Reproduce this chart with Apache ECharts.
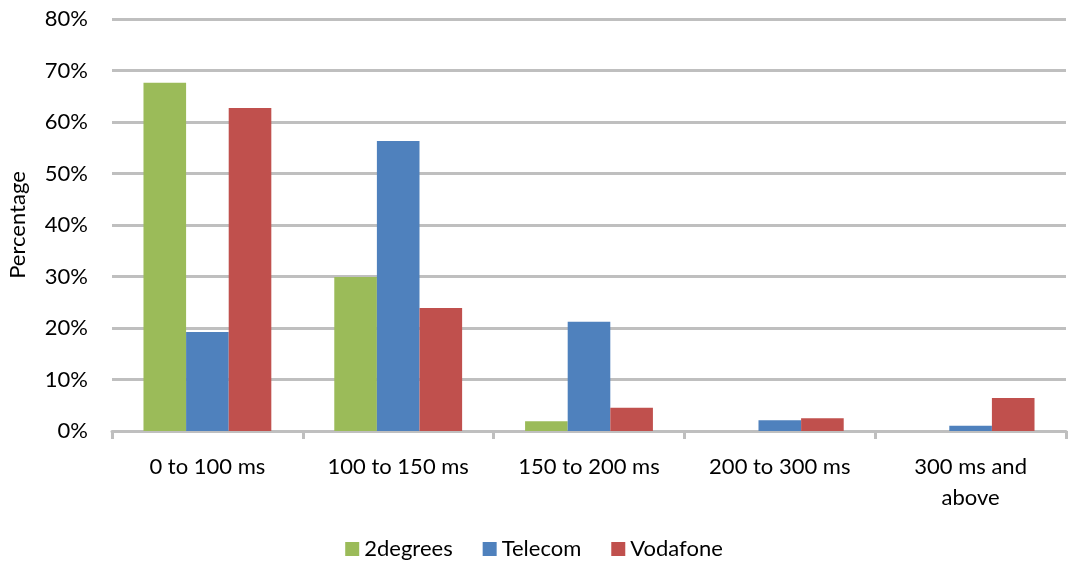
<!DOCTYPE html>
<html>
<head>
<meta charset="utf-8">
<script src="https://cdn.jsdelivr.net/npm/echarts@6/dist/echarts.min.js"></script>
<style>
  html, body { margin: 0; padding: 0; background: #fff; }
  #chart { width: 1068px; height: 567px; }
</style>
</head>
<body>
<div id="chart"></div>
<script>
  // data (percent)
  const categories = ['0 to 100 ms', '100 to 150 ms', '150 to 200 ms', '200 to 300 ms', '300 ms and\nabove']
  const twoDegrees = [67.6, 29.9, 1.9, 0, 0]
  const telecom = [19.2, 56.3, 21.2, 2.1, 1.0]
  const vodafone = [62.7, 23.9, 4.5, 2.5, 6.4]
  const seriesNames = ['2degrees', 'Telecom', 'Vodafone']

  const textColor = '#000'
  const gridColor = '#bfbfbf'
  const fontFamily = 'Lato, "Open Sans", sans-serif'
  const fontSize = 22
  const colorList = ['#9bbb59', '#4f81bd', '#c0504d']

  const myChart = echarts.init(document.getElementById('chart'))

  const defaultSeries = {
    type: 'bar',
    barGap: 0,
    barCategoryGap: '33%'
  }

  const option = {
    animation: false,
    color: colorList,
    textStyle: { fontFamily: fontFamily },
    legend: {
      data: seriesNames,
      bottom: 2,
      left: 'center',
      icon: 'rect',
      itemWidth: 14,
      itemHeight: 14,
      itemGap: 30,
      textStyle: { color: textColor, fontSize: fontSize, fontFamily: fontFamily }
    },
    grid: {
      left: 112,
      right: 2,
      top: 19,
      bottom: 136,
      outerBoundsMode: 'none'
    },
    xAxis: {
      type: 'category',
      data: categories,
      axisLine: { lineStyle: { color: gridColor, width: 3 } },
      axisTick: { show: true, length: 8, lineStyle: { color: gridColor, width: 3 } },
      axisLabel: {
        color: textColor,
        fontSize: fontSize,
        lineHeight: 31,
        margin: 20,
        interval: 0,
        fontFamily: fontFamily
      }
    },
    yAxis: {
      type: 'value',
      min: 0,
      max: 80,
      interval: 10,
      name: 'Percentage',
      nameLocation: 'middle',
      nameGap: 83,
      nameTextStyle: { color: textColor, fontSize: fontSize, fontFamily: fontFamily },
      axisLine: { show: false },
      axisTick: { show: false },
      splitLine: { lineStyle: { color: gridColor, width: 3 } },
      axisLabel: {
        color: textColor,
        fontSize: fontSize,
        margin: 24,
        formatter: '{value}%',
        fontFamily: fontFamily
      }
    },
    series: [
      { ...defaultSeries, name: seriesNames[0], data: twoDegrees },
      { ...defaultSeries, name: seriesNames[1], data: telecom },
      { ...defaultSeries, name: seriesNames[2], data: vodafone }
    ]
  }

  myChart.setOption(option)
</script>
</body>
</html>
